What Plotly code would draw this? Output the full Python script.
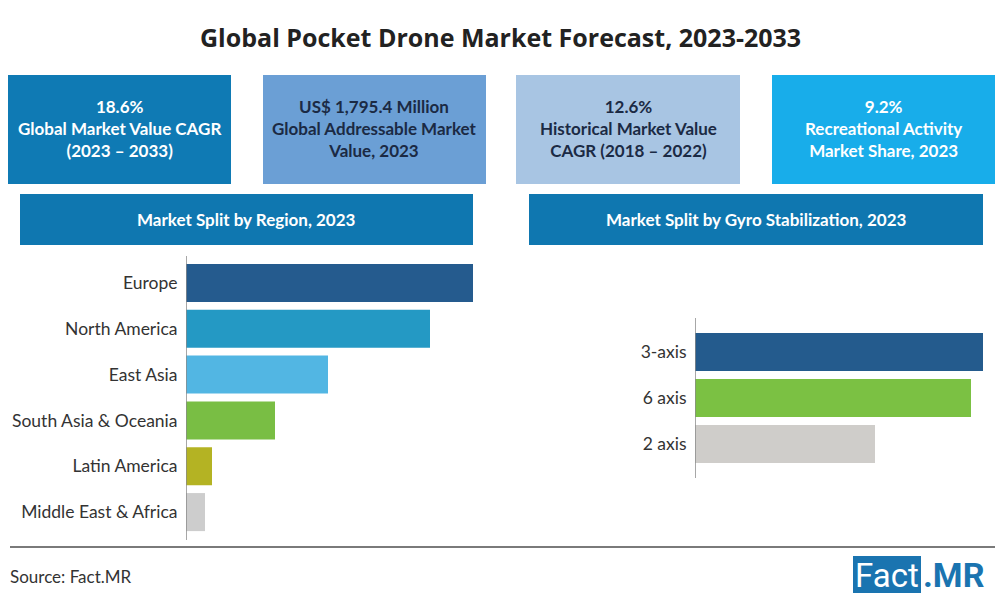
import plotly.graph_objects as go

# ---- data ----
regions = ["Europe", "North America", "East Asia", "South Asia & Oceania", "Latin America", "Middle East & Africa"]
region_values = [28.7, 24.4, 14.2, 8.9, 2.6, 1.9]
region_colors = ["#255b8e", "#2499c4", "#52b6e3", "#79be44", "#b4b323", "#cdcdcd"]

gyro = ["3-axis", "6 axis", "2 axis"]
gyro_values = [28.8, 27.6, 18.0]
gyro_colors = ["#245b8d", "#7bc143", "#cfcdca"]

kpi_texts = [
    "<b>18.6%<br>Global Market Value CAGR<br>(2023 – 2033)</b>",
    "<b>US$ 1,795.4 Million<br>Global Addressable Market<br>Value, 2023</b>",
    "<b>12.6%<br>Historical Market Value<br>CAGR (2018 – 2022)</b>",
    "<b>9.2%<br>Recreational Activity<br>Market Share, 2023</b>",
]
kpi_fill = ["#0f7ab4", "#6b9fd5", "#a8c5e3", "#18adea"]
kpi_font = ["#ffffff", "#1b2a44", "#1b2a44", "#ffffff"]
headers = ["<b>Market Split by Region, 2023</b>", "<b>Market Split by Gyro Stabilization, 2023</b>"]
title = "<b>Global Pocket Drone Market Forecast, 2023-2033</b>"

W, H = 1000, 600
def px(x): return x / W
def py(y): return 1 - y / H

FONT = "Lato"

fig = go.Figure()
fig.add_trace(go.Bar(y=regions, x=region_values, orientation="h",
                     marker=dict(color=region_colors, line=dict(width=0)),
                     xaxis="x", yaxis="y", hoverinfo="skip", showlegend=False))
fig.add_trace(go.Bar(y=gyro, x=gyro_values, orientation="h",
                     marker=dict(color=gyro_colors, line=dict(width=0)),
                     xaxis="x2", yaxis="y2", hoverinfo="skip", showlegend=False))

shapes = []
annotations = []

# KPI boxes
kpi_x = [(8, 231), (263, 486), (516, 740), (772, 995)]
for (x0, x1), txt, fc, tc in zip(kpi_x, kpi_texts, kpi_fill, kpi_font):
    shapes.append(dict(type="rect", xref="paper", yref="paper",
                       x0=px(x0), x1=px(x1), y0=py(184), y1=py(75),
                       fillcolor=fc, line=dict(width=0), layer="below"))
    annotations.append(dict(xref="paper", yref="paper", x=px((x0 + x1) / 2), y=py(128),
                            text=txt, showarrow=False, xanchor="center", yanchor="middle",
                            font=dict(family=FONT, size=17, color=tc), align="center"))

# section headers
hdr_x = [(20, 473), (529, 983)]
for (x0, x1), txt in zip(hdr_x, headers):
    shapes.append(dict(type="rect", xref="paper", yref="paper",
                       x0=px(x0), x1=px(x1), y0=py(245), y1=py(194),
                       fillcolor="#0f77b0", line=dict(width=0), layer="below"))
    annotations.append(dict(xref="paper", yref="paper", x=px((x0 + x1) / 2), y=py(219),
                            text=txt, showarrow=False, xanchor="center", yanchor="middle",
                            font=dict(family=FONT, size=17, color="#ffffff")))

# axis lines
shapes.append(dict(type="line", xref="x", yref="paper", x0=0, x1=0, y0=py(540), y1=py(256),
                   line=dict(color="#8a8a8a", width=1.5)))
shapes.append(dict(type="line", xref="x2", yref="paper", x0=0, x1=0, y0=py(478), y1=py(318),
                   line=dict(color="#8a8a8a", width=1.5)))
# bottom separator
shapes.append(dict(type="line", xref="paper", yref="paper", x0=px(10), x1=px(995), y0=py(547), y1=py(547),
                   line=dict(color="#7a7a7a", width=2)))
# logo box
shapes.append(dict(type="rect", xref="paper", yref="paper", x0=px(853), x1=px(921), y0=py(593), y1=py(556),
                   fillcolor="#1a74b0", line=dict(width=0)))

annotations.append(dict(xref="paper", yref="paper", x=0.5, y=py(37), text=title, showarrow=False,
                        xanchor="center", yanchor="middle", font=dict(family="Open Sans", size=25, color="#222222")))
annotations.append(dict(xref="paper", yref="paper", x=px(8), y=py(576), text="Source: Fact.MR", showarrow=False,
                        xanchor="left", yanchor="middle", font=dict(family=FONT, size=17, color="#333333")))
annotations.append(dict(xref="paper", yref="paper", x=px(887), y=py(575), text="Fact", showarrow=False,
                        xanchor="center", yanchor="middle", font=dict(family="Roboto", size=33, color="#ffffff")))
annotations.append(dict(xref="paper", yref="paper", x=px(921), y=py(575), text="<b>.MR</b>", showarrow=False,
                        xanchor="left", yanchor="middle", font=dict(family="Roboto", size=34, color="#1a74b0")))

fig.update_layout(
    width=W, height=H,
    margin=dict(l=0, r=0, t=0, b=0),
    paper_bgcolor="#ffffff", plot_bgcolor="rgba(0,0,0,0)",
    bargap=0.17,
    shapes=shapes, annotations=annotations,
    xaxis=dict(domain=[px(186), px(486)], range=[0, 30], visible=False, fixedrange=True),
    yaxis=dict(domain=[py(535), py(260)], anchor="x", autorange="reversed",
               showgrid=False, zeroline=False, showline=False, ticks="outside", ticklen=4,
               tickcolor="rgba(0,0,0,0)", tickfont=dict(family=FONT, size=17.5, color="#333333")),
    xaxis2=dict(domain=[px(695), px(995)], range=[0, 30], visible=False, anchor="y2", fixedrange=True),
    yaxis2=dict(domain=[py(467), py(329)], anchor="x2", autorange="reversed",
                showgrid=False, zeroline=False, showline=False, ticks="outside", ticklen=4,
                tickcolor="rgba(0,0,0,0)", tickfont=dict(family=FONT, size=17.5, color="#333333")),
)

fig.write_html("out.html")
